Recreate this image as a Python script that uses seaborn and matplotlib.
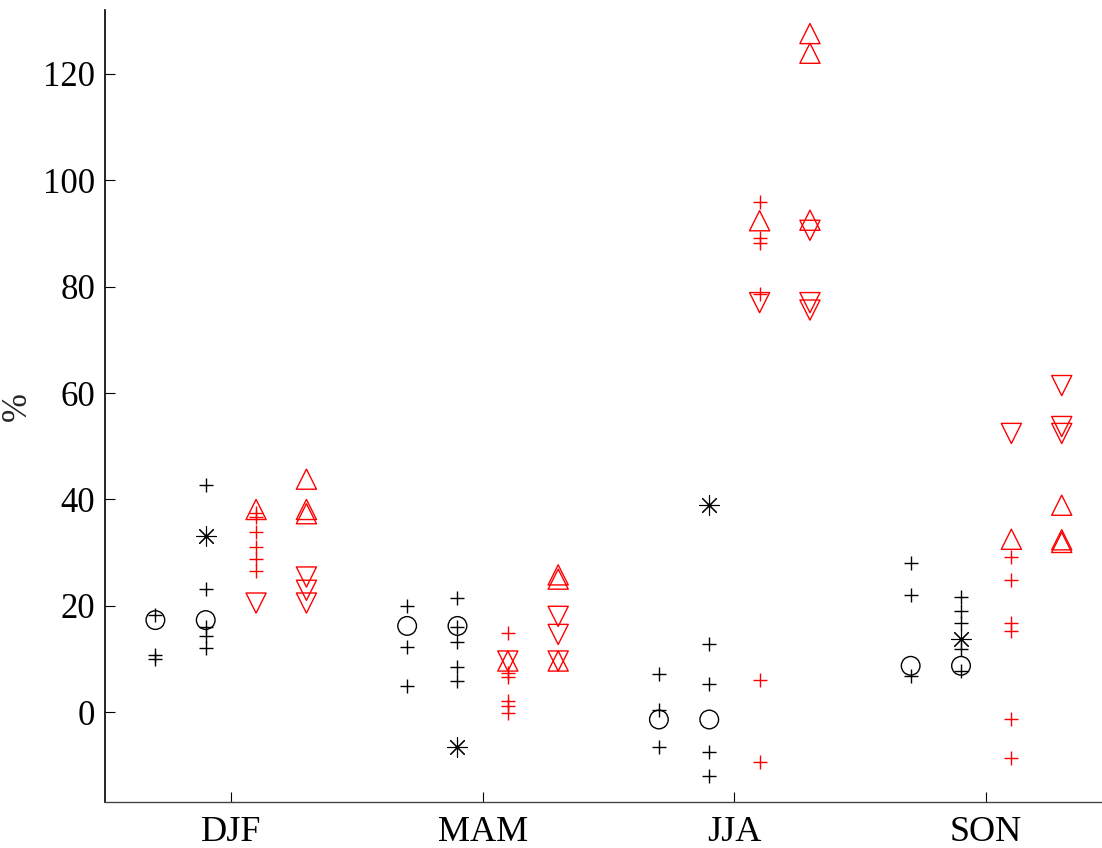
import numpy as np
import pandas as pd
import matplotlib
matplotlib.use("Agg")
import matplotlib.pyplot as plt
import seaborn as sns

# Data (percent), one inner list per season
seasons = ["DJF", "MAM", "JJA", "SON"]

black1_plus = [[18.2, 10.7, 10.0], [20.0, 12.2, 4.9], [7.1, 0.3, -6.5], [28.0, 22.1, 6.8]]
black1_circle = [[17.3], [16.2], [-1.4], [8.7]]
black2_plus = [[42.7, 23.1, 16.0, 14.3, 12.0], [21.4, 16.0, 13.1, 8.4, 5.8],
               [12.8, 5.3, -7.5, -12.0], [21.6, 19.1, 16.8, 11.8, 7.8]]
black2_circle = [[17.3], [16.2], [-1.4], [8.7]]
black2_star = [[33.2], [-6.5], [38.9], [13.7]]
red3_plus = [[37.5, 36.6, 33.9, 31.0, 28.8, 26.6], [14.8, 7.4, 6.6, 2.0, 1.2, -0.2],
             [95.9, 89.2, 88.3, 78.6, 6.0, -9.3], [29.2, 24.8, 16.8, 15.3, -1.3, -8.7]]
red3_up = [[38.1], [9.6], [92.4], [32.5]]
red3_down = [[20.5], [9.6], [77.0], [52.4]]
red4_up = [[43.8, 38.1, 37.3], [25.8, 25.0, 9.6], [127.6, 123.9, 92.5], [38.9, 32.4, 31.9]]
red4_down = [[25.4, 22.9, 20.5], [18.0, 14.6, 9.6], [90.6, 77.0, 75.6], [61.4, 53.7, 52.4]]

col_offsets = [-0.3, -0.1, 0.1, 0.3]

# (values, column index, marker, colour, size)
series = [
    (black1_plus, 0, "+", "black", 100),
    (black1_circle, 0, "o", "black", 180),
    (black2_plus, 1, "+", "black", 100),
    (black2_circle, 1, "o", "black", 180),
    (black2_star, 1, (8, 2, 0), "black", 200),
    (red3_plus, 2, "+", "red", 100),
    (red3_up, 2, "^", "red", 210),
    (red3_down, 2, "v", "red", 210),
    (red4_up, 3, "^", "red", 210),
    (red4_down, 3, "v", "red", 210),
]

unfilled = ["+", (8, 2, 0)]


def to_frame(values, col):
    rows = []
    for i, vals in enumerate(values):
        for v in vals:
            rows.append({"x": i + 1 + col_offsets[col], "value": v})
    return pd.DataFrame(rows)


sns.set_style("ticks")
plt.rcParams["font.family"] = ["Liberation Serif", "DejaVu Serif"]

fig = plt.figure(figsize=(11.02, 8.48), dpi=100)
ax = fig.add_axes([0.0953, 0.0537, 0.9047, 0.9343])

for values, col, marker, color, size in series:
    df = to_frame(values, col)
    if marker in unfilled:
        lw = 0.8 if marker != "+" else 1.0
        sns.scatterplot(data=df, x="x", y="value", marker=marker, s=size,
                        color=color, linewidth=lw, ax=ax, zorder=3)
    else:
        sns.scatterplot(data=df, x="x", y="value", marker=marker, s=size,
                        facecolor="none", edgecolor=color, linewidth=1.0,
                        ax=ax, zorder=3)

ax.set_xlim(0.5, 4.46)
ax.set_ylim(-17, 132)
ax.set_xticks(range(1, len(seasons) + 1))
ax.set_xticklabels(seasons)
ax.set_yticks(np.arange(0, 121, 20))
ax.set_xlabel("")
ax.set_ylabel("%", fontsize=25)
ax.yaxis.set_label_coords(-0.071, 0.5)

ax.tick_params(axis="both", direction="in", length=7, width=0.8,
               colors="black")
ax.tick_params(axis="x", pad=10, labelsize=26)
ax.tick_params(axis="y", pad=7, labelsize=25)

for side in ["top", "right"]:
    ax.spines[side].set_visible(False)
ax.spines["left"].set_linewidth(1.2)
ax.spines["bottom"].set_linewidth(1.0)
ax.spines["left"].set_color("black")
ax.spines["bottom"].set_color("#444444")

fig.savefig("out.png", dpi=100)
